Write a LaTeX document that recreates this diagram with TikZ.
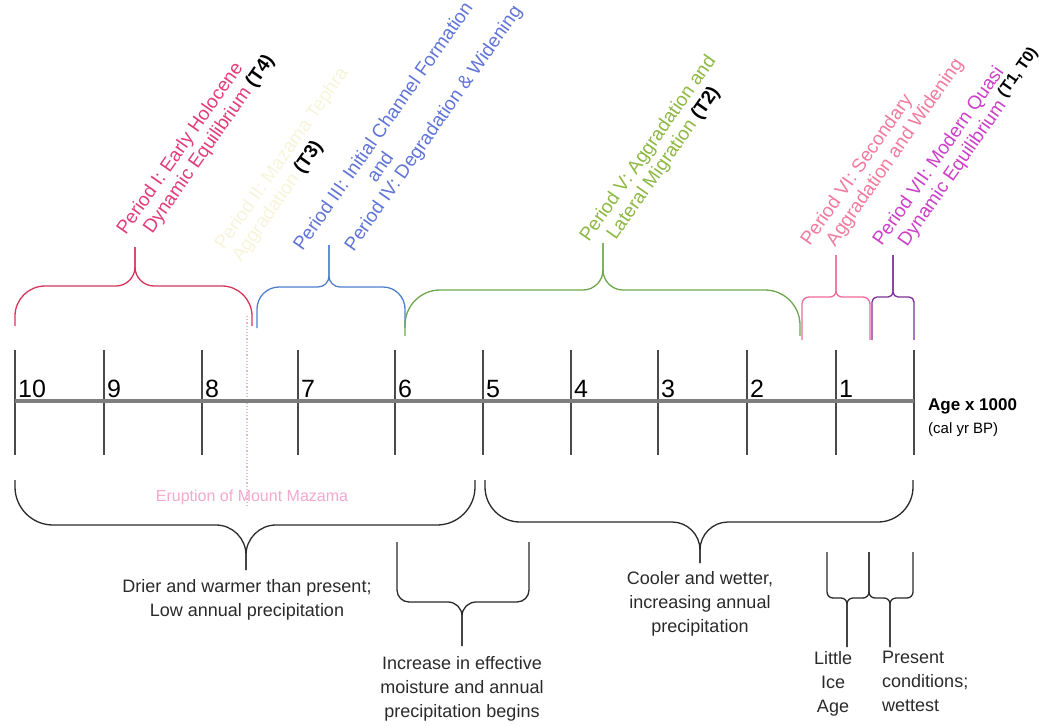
\documentclass[tikz,border=0pt]{standalone}
\usepackage{fontspec}
\setmainfont{Liberation Sans}
\usetikzlibrary{positioning}
\definecolor{perI}{HTML}{D6345A}
\definecolor{perItext}{HTML}{E23C78}
\definecolor{perII}{HTML}{F7F4DA}
\definecolor{perIII}{HTML}{4F7FCC}
\definecolor{perIIItext}{HTML}{6074D8}
\definecolor{perV}{HTML}{6EA84E}
\definecolor{perVtext}{HTML}{8DB842}
\definecolor{perVI}{HTML}{EE6A98}
\definecolor{perVItext}{HTML}{F27A9E}
\definecolor{perVII}{HTML}{7A2E98}
\definecolor{perVIItext}{HTML}{CC3FC8}
\definecolor{climate}{HTML}{2A2A2A}
\definecolor{axisgray}{HTML}{7E7E7E}
\definecolor{tickgray}{HTML}{4A4A4A}
\definecolor{mazama}{HTML}{EBB9CF}
\definecolor{mazamatext}{HTML}{F3A8CC}
\tikzset{
  periodbrace/.style={line width=1.3pt, line join=round},
  axisline/.style={line width=3.5pt, draw=axisgray},
  tickline/.style={line width=1.2pt, draw=tickgray},
  ticklabel/.style={anchor=base west, inner sep=0pt, font=\fontsize{25}{30}\selectfont},
  periodlabel/.style={rotate=55, anchor=base west, inner sep=0pt, align=left,
    font=\fontsize{19}{21}\selectfont},
  climlabel/.style={align=center, inner sep=0pt, text=climate,
    font=\fontsize{18}{24}\selectfont},
  mazamaline/.style={line width=1.2pt, draw=mazama, dotted}
}
% brace: colour, left x, right x, tip x, end y, flat y, tip y, corner, tip width
\newcommand\epochbrace[9]{%
  \pgfmathsetmacro\bsgn{sign(#5-#6)}%
  \draw[periodbrace, draw=#1] (#2,#5) -- (#2,{#6+\bsgn*#8})
    .. controls (#2,{#6+\bsgn*0.45*#8}) and ({#2+0.45*#8},#6) .. ({#2+#8},#6)
    -- ({#4-#9},#6)
    .. controls ({#4-0.45*#9},#6) and (#4,{#6-\bsgn*0.45*#9}) .. (#4,{#6-\bsgn*#9})
    -- (#4,#7);
  \draw[periodbrace, draw=#1] (#3,#5) -- (#3,{#6+\bsgn*#8})
    .. controls (#3,{#6+\bsgn*0.45*#8}) and ({#3-0.45*#8},#6) .. ({#3-#8},#6)
    -- ({#4+#9},#6)
    .. controls ({#4+0.45*#9},#6) and (#4,{#6-\bsgn*0.45*#9}) .. (#4,{#6-\bsgn*#9})
    -- (#4,#7);
}
\newcommand\tmark[1]{\textcolor{black}{\bfseries #1}}

\begin{document}
\begin{tikzpicture}[x=1pt, y=-1pt]
  \useasboundingbox (0,0) rectangle (1043,725);

  % geomorphic periods
  \epochbrace{perI}{15}{252}{135}{326}{286}{247}{30}{19}
  \epochbrace{perIII}{257}{405}{329}{328}{287}{245}{22}{11}
  \epochbrace{perV}{405}{800}{603}{336}{290}{243}{35}{20}
  \epochbrace{perVI}{802}{870}{836}{340}{297}{255}{7}{6}
  \epochbrace{perVII}{872}{914}{893}{340}{297}{255}{5}{5}

  % climate
  \epochbrace{climate}{15}{475}{246}{480}{525}{570}{38}{30}
  \epochbrace{climate}{485}{913}{700}{480}{522}{563}{35}{28}
  \epochbrace{climate}{397}{529}{462}{542}{602}{646}{12}{14}
  \epochbrace{climate}{827}{869}{847}{552}{598}{647}{6}{6}
  \epochbrace{climate}{869}{913}{890}{552}{598}{647}{6}{6}

  \draw[mazamaline] (247,316) -- (247,505);

  % time axis
  \foreach \x/\n in {15/10,104/9,202/8,298/7,395/6,483/5,571/4,658/3,747/2,836/1}{
    \draw[tickline] (\x,350) -- (\x,455);
    \node[ticklabel] (k\n) at ({\x+3},397) {\n};
  }
  \draw[tickline] (914,350) -- (914,455);
  \draw[axisline] (15,401) -- (914,401);

  \node[anchor=base west, inner sep=0pt, font=\fontsize{17}{20}\selectfont\bfseries] (age) at (928,410) {Age x 1000};
  \node[anchor=base west, inner sep=0pt, font=\fontsize{15}{18}\selectfont] (calyr) at ([yshift=-23pt]age.base west) {(cal yr BP)};

  % period labels (anchored on the last line)
  \node[periodlabel, text=perItext] (p1) at (143,248) {Period I: Early Holocene\\\hspace*{16pt}Dynamic Equilibrium \tmark{(T4)}};
  \node[periodlabel, text=perII] (p2) at (241,263) {Period II: Mazama Tephra\\Aggradation \tmark{(T3)}};
  \node[periodlabel, text=perIIItext] (p3) at (337,276) {Period III: Initial Channel Formation\\\hspace*{98pt}and\\\hspace*{29pt}Period IV: Degradation \& Widening};
  \node[periodlabel, text=perVtext] (p5) at (606,255) {Period V: Aggradation and\\\hspace*{17pt}Lateral Migration \tmark{(T2)}};
  \node[periodlabel, text=perVItext] (p6) at (827,259) {Period VI: Secondary\\\hspace*{14pt}Aggradation and Widening};
  \node[periodlabel, text=perVIItext] (p7) at (899,259) {Period VII: Modern Quasi\\\hspace*{14pt}Dynamic Equilibrium \raisebox{5pt}{\fontsize{16}{19}\selectfont\tmark{(T1, T0)}}};

  % climate labels
  \node[text=mazamatext, font=\fontsize{16}{19}\selectfont] (mazama) at (252,497) {Eruption of Mount Mazama};
  \node[climlabel, anchor=north] (dry) at (247,579) {Drier and warmer than present;\\Low annual precipitation};
  \node[climlabel, anchor=north] (moist) at (462,656) {Increase in effective\\moisture and annual\\precipitation begins};
  \node[climlabel, anchor=north] (cool) at (700,571) {Cooler and wetter,\\increasing annual\\precipitation};
  \node[climlabel, anchor=north] (lia) at (833,651) {Little\\Ice\\Age};
  \node[climlabel, anchor=north west, align=left] (wet) at (882,651) {Present\\conditions;\\wettest};
\end{tikzpicture}
\end{document}
